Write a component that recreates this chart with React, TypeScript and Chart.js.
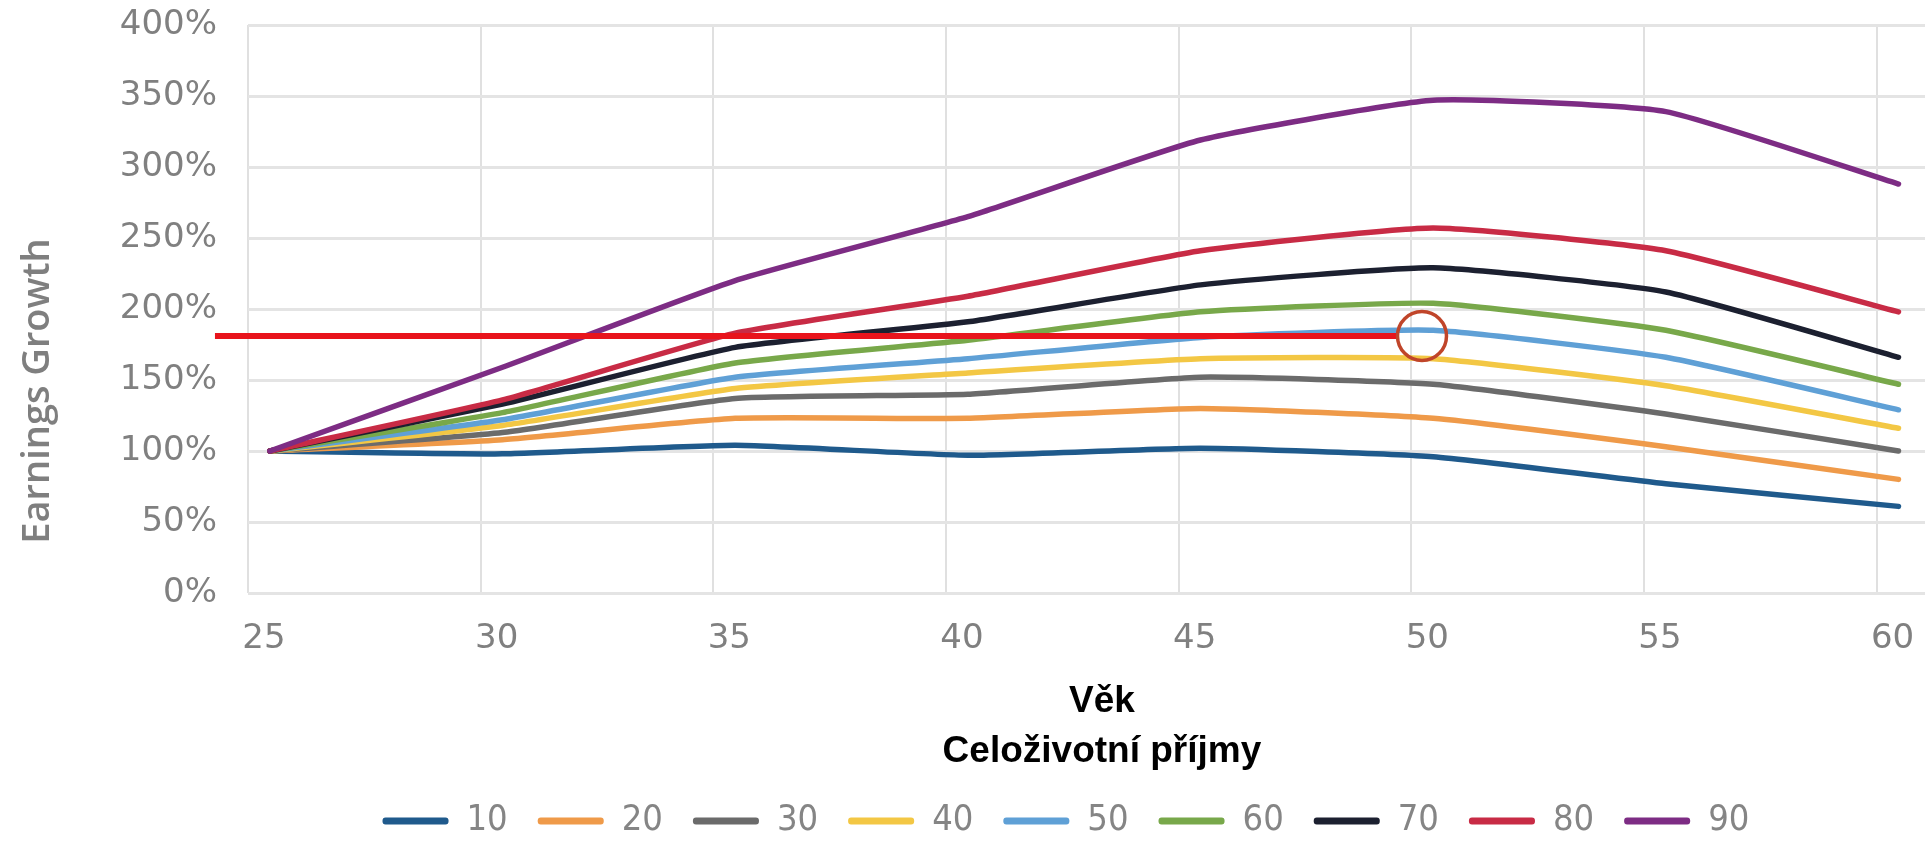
import React, { useEffect, useRef } from 'react';
import { Chart, registerables } from 'chart.js';

Chart.register(...registerables);

// ---- data ----
const AGES = [25, 30, 35, 40, 45, 50, 55, 60];
const SERIES_LABELS = ['10', '20', '30', '40', '50', '60', '70', '80', '90'];
const P10 = [100, 98, 104, 97, 102, 96, 77, 61];
const P20 = [100, 108, 123, 123, 130, 123, 103, 80];
const P30 = [100, 113, 137, 140, 152, 147, 126, 100];
const P40 = [100, 118, 144, 155, 165, 165, 146, 116];
const P50 = [100, 122, 152, 165, 180, 185, 166, 129];
const P60 = [100, 127, 162, 178, 198, 204, 185, 147];
const P70 = [100, 133, 173, 191, 217, 229, 212, 166];
const P80 = [100, 136, 183, 209, 241, 257, 241, 198];
const P90 = [100, 159, 220, 265, 319, 347, 339, 288];
const SERIES_VALUES = [P10, P20, P30, P40, P50, P60, P70, P80, P90];
const SERIES_COLORS = ['#1f5a8c', '#ef9a49', '#6b6b6b', '#f3c744', '#5fa0d6', '#78a84a', '#1c2030', '#c82b45', '#7d2c84'];

const X_TICK_LABELS = ['25', '30', '35', '40', '45', '50', '55', '60'];
const Y_TICK_VALUES = [0, 50, 100, 150, 200, 250, 300, 350, 400];

// highlight marker (horizontal red line ending in a circle)
const MARKER_LINE_X = [23.82, 49.25];
const MARKER_LINE_Y = [181, 181];
const MARKER_CIRCLE_X = [49.76];
const MARKER_CIRCLE_Y = [181];

const Y_TITLE = 'Earnings Growth';
const X_TITLE = ['Věk', 'Celoživotní příjmy'];

const GRID_SHIFT = 0.47;

export default function App() {
  const ref = useRef<HTMLCanvasElement | null>(null);

  useEffect(() => {
    const canvas = ref.current;
    if (!canvas) return;

    const tickFont = { family: "'DejaVu Sans', sans-serif", size: 34 };
    const seriesSets = SERIES_LABELS.map((label, si) => ({
      label,
      data: AGES.map((a, i) => ({ x: a, y: SERIES_VALUES[si][i] })),
      borderColor: SERIES_COLORS[si],
      backgroundColor: SERIES_COLORS[si],
      borderWidth: 5.5,
      pointRadius: 0,
      tension: 0.15,
      borderCapStyle: 'round',
      borderJoinStyle: 'round',
      fill: false,
      order: SERIES_LABELS.length - si,
    }));

    const markerLine = {
      label: 'marker-line',
      data: MARKER_LINE_X.map((x, i) => ({ x, y: MARKER_LINE_Y[i] })),
      borderColor: '#e8141c',
      backgroundColor: '#e8141c',
      borderWidth: 6,
      pointRadius: 0,
      tension: 0,
      clip: false,
      order: -1,
    };
    const markerCircle = {
      label: 'marker-circle',
      data: MARKER_CIRCLE_X.map((x, i) => ({ x, y: MARKER_CIRCLE_Y[i] })),
      showLine: false,
      pointStyle: 'circle',
      pointRadius: 24.5,
      pointHoverRadius: 24.5,
      pointBorderWidth: 3.5,
      pointBorderColor: '#c0452a',
      pointBackgroundColor: 'rgba(0,0,0,0)',
      borderColor: '#c0452a',
      backgroundColor: 'rgba(0,0,0,0)',
      clip: false,
      order: -2,
    };

    const chart = new Chart(canvas, {
      type: 'line',
      data: { datasets: [...seriesSets, markerLine, markerCircle] as any },
      options: {
        animation: false,
        responsive: false,
        devicePixelRatio: 1,
        events: [],
        layout: { autoPadding: false, padding: { top: 25, left: 0, right: 0, bottom: 0 } },
        scales: {
          x: {
            type: 'linear',
            min: 24.53,
            max: 60.57,
            afterBuildTicks: (scale: any) => {
              scale.ticks = X_TICK_LABELS.map((l) => ({ value: Number(l) - GRID_SHIFT }));
            },
            ticks: {
              callback: (_v: any, i: number) => X_TICK_LABELS[i],
              labelOffset: 16,
              padding: 26,
              autoSkip: false,
              maxRotation: 0,
              font: tickFont,
              color: '#808080',
            },
            grid: { color: '#e0e0e0', lineWidth: 2, drawTicks: false },
            border: { display: false },
            title: {
              display: true,
              text: X_TITLE.map((t) => '   ' + t),
              color: '#000000',
              font: { family: "'Liberation Sans', Arial, sans-serif", size: 37, weight: 'bold', lineHeight: 1.35 },
              padding: { top: 0, bottom: -4 },
            },
            afterFit: (scale: any) => {
              scale.height = 180;
            },
          },
          y: {
            type: 'linear',
            min: 0,
            max: 400,
            afterBuildTicks: (scale: any) => {
              scale.ticks = Y_TICK_VALUES.map((v) => ({ value: v }));
            },
            ticks: {
              callback: (v: any) => v + '%',
              padding: 0,
              font: tickFont,
              color: '#808080',
            },
            grid: {
              color: '#e4e4e4',
              lineWidth: 3,
              drawTicks: true,
              tickLength: 31,
              tickColor: 'rgba(0,0,0,0)',
            },
            border: { display: false },
            title: {
              display: true,
              text: '     ' + Y_TITLE,
              align: 'start',
              color: '#7f7f7f',
              font: { family: "'Open Sans', sans-serif", size: 38, weight: '600', lineHeight: 1.2 },
              padding: { top: 15, bottom: 0 },
            },
            afterFit: (scale: any) => {
              scale.width = 248;
            },
          },
        },
        plugins: {
          tooltip: { enabled: false },
          legend: {
            position: 'bottom',
            fullSize: false,
            maxHeight: 77,
            labels: {
              boxWidth: 66,
              boxHeight: 7,
              padding: 30,
              color: '#858585',
              font: { family: "'DejaVu Sans', Roboto, sans-serif", size: 36, weight: 'condensed' },
              filter: (item: any) => item.datasetIndex < SERIES_LABELS.length,
              sort: (a: any, b: any) => a.datasetIndex - b.datasetIndex,
              generateLabels: (c: any) =>
                Chart.defaults.plugins.legend.labels.generateLabels(c).map((l: any) => ({
                  ...l,
                  text: l.datasetIndex === SERIES_LABELS.length - 1 ? l.text + '    ' : l.text,
                  fillStyle: l.strokeStyle,
                  lineWidth: 0,
                  borderRadius: 3,
                })),
            },
          },
        },
      } as any,
    });

    return () => chart.destroy();
  }, []);

  return (
    <div style={{ position: 'absolute', left: 0, top: 0, width: 1925, height: 849, background: '#ffffff' }}>
      <canvas ref={ref} width={1925} height={849} style={{ width: 1925, height: 849, display: 'block' }} />
    </div>
  );
}
